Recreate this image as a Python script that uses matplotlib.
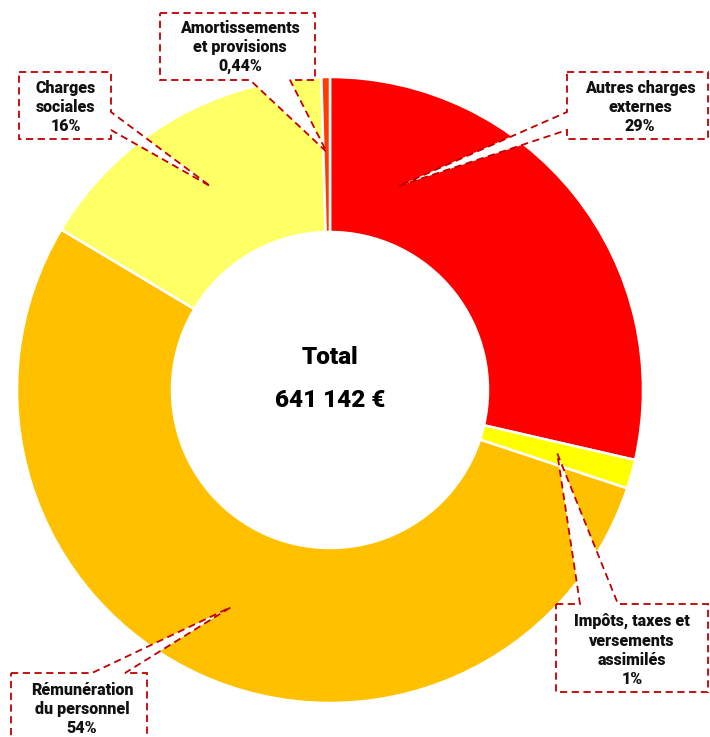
import numpy as np
import matplotlib
matplotlib.use("Agg")
import matplotlib.pyplot as plt
from matplotlib.patches import Polygon

plt.rcParams['font.family'] = ['Roboto', 'DejaVu Sans']

# Data (share of total, clockwise from 12 o'clock)
categories = ["Autres charges\nexternes", "Impôts, taxes et\nversements\nassimilés",
              "Rémunération\ndu personnel", "Charges\nsociales", "Amortissements\net provisions"]
shares = [28.6, 1.5, 53.5, 16.0, 0.44]
pct_labels = ["29%", "1%", "54%", "16%", "0,44%"]
colors = ["#FF0000", "#FFFF00", "#FFC000", "#FFFF66", "#FF3B00"]
total_label = "641 142 €"

# Layout (pixel coords, y down)
W, H = 710, 737
cx, cy, R, ring = 330, 390, 313, 155
# box x0, y0, x1, y1, side of pointer, pointer base (a, b), text centre, tip frac in wedge, tip radius
boxes = [
    (567, 72, 708, 139, "left", (112, 130), (640, 107), 0.18, 215),
    (556, 604, 708, 692, "top", (580, 618), (632, 650), 0.5, 236),
    (11, 673, 147, 745, "top", (92, 125), (82, 709), 0.5, 239),
    (19, 72, 111, 139, "right", (112, 130), (66, 107), 0.5, 236),
    (160, 13, 315, 80, "bottom", (250, 290), (240, 47), 0.5, 238),
]
red = "#C00000"

fig = plt.figure(figsize=(W / 100, H / 100), dpi=100)
ax = fig.add_axes([0, 0, 1, 1])

wedges, _ = ax.pie(shares, colors=colors, startangle=-90, counterclock=True,
                   center=(cx, cy), radius=R,
                   wedgeprops=dict(width=ring, edgecolor="white", linewidth=1.8))
ax.set_xlim(0, W)
ax.set_ylim(H, 0)
ax.set_aspect("equal")
ax.axis("off")


def callout(x0, y0, x1, y1, side, base, tip):
    a, b = base
    pts = [(x0, y0)]
    if side == "top":
        pts += [(a, y0), tip, (b, y0)]
    pts.append((x1, y0))
    if side == "right":
        pts += [(x1, a), tip, (x1, b)]
    pts.append((x1, y1))
    if side == "bottom":
        pts += [(b, y1), tip, (a, y1)]
    pts.append((x0, y1))
    if side == "left":
        pts += [(x0, b), tip, (x0, a)]
    return pts


for w, cat, pct, bx in zip(wedges, categories, pct_labels, boxes):
    x0, y0, x1, y1, side, base, tc, frac, tr = bx
    ang = np.deg2rad(w.theta1 + frac * (w.theta2 - w.theta1))
    tip = (cx + tr * np.cos(ang), cy + tr * np.sin(ang))
    poly = Polygon(callout(x0, y0, x1, y1, side, base, tip), closed=True,
                   facecolor="white", edgecolor=red, linewidth=1.3,
                   linestyle=(0, (4, 2.5)), zorder=5)
    ax.add_patch(poly)
    ax.text(tc[0], tc[1], cat + "\n" + pct, ha="center", va="center",
            multialignment="center", fontsize=11.5, fontweight="heavy",
            linespacing=1.25, color="#111111", zorder=6)

ax.text(cx, 357, "Total", ha="center", va="center", fontsize=17.5,
        fontweight="black", color="black")
ax.text(cx, 400, total_label, ha="center", va="center", fontsize=17.5,
        fontweight="black", color="black")

fig.savefig("out.png", dpi=100)
